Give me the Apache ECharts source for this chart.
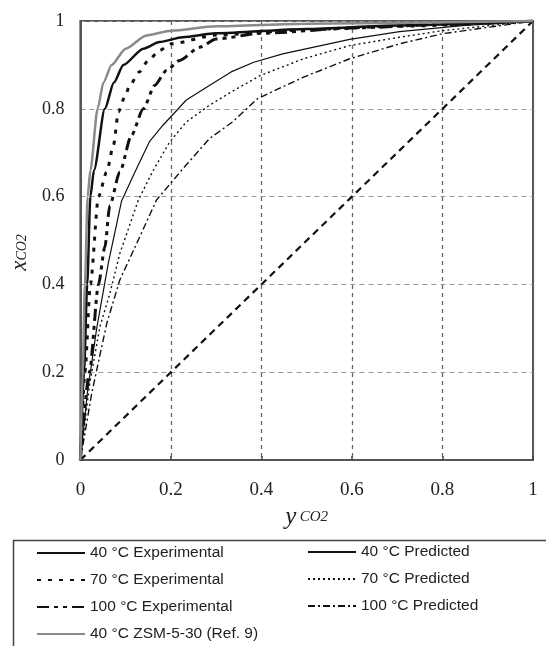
<!DOCTYPE html>
<html>
<head>
<meta charset="utf-8">
<script src="https://cdn.jsdelivr.net/npm/echarts@6/dist/echarts.min.js"></script>
<style>
  html, body { margin: 0; padding: 0; background: #fff; }
  #main { width: 546px; height: 646px; }
</style>
</head>
<body>
<div id="main"></div>
<script>
// axis ticks
const xTicks = [0, 0.2, 0.4, 0.6, 0.8, 1];
const yTicks = [0, 0.2, 0.4, 0.6, 0.8, 1];

// [yCO2, xCO2]
const exp40 = [[0,0],[0.008,0.2],[0.015,0.4],[0.022,0.6],[0.03,0.66],[0.054,0.8],[0.074,0.86],[0.095,0.9],[0.139,0.937],[0.175,0.952],[0.226,0.963],[0.3,0.972],[0.5,0.982],[0.7,0.99],[1,1]];
const exp70 = [[0,0],[0.01,0.2],[0.022,0.4],[0.04,0.6],[0.058,0.656],[0.073,0.717],[0.084,0.793],[0.098,0.827],[0.109,0.853],[0.13,0.884],[0.15,0.91],[0.175,0.933],[0.2,0.948],[0.3,0.968],[0.5,0.98],[0.7,0.988],[1,1]];
const exp100 = [[0,0],[0.02,0.2],[0.04,0.4],[0.054,0.485],[0.065,0.58],[0.087,0.656],[0.113,0.74],[0.139,0.8],[0.164,0.853],[0.19,0.887],[0.219,0.91],[0.263,0.94],[0.3,0.959],[0.4,0.972],[0.6,0.984],[0.8,0.992],[1,1]];
const zsm40 = [[0,0],[0.005,0.2],[0.01,0.4],[0.016,0.6],[0.022,0.66],[0.038,0.8],[0.051,0.86],[0.069,0.9],[0.1,0.937],[0.146,0.967],[0.2,0.978],[0.3,0.988],[0.5,0.994],[1,1]];
const pred40 = [[0,0],[0.015,0.15],[0.036,0.3],[0.062,0.45],[0.091,0.59],[0.12,0.655],[0.153,0.726],[0.182,0.762],[0.234,0.82],[0.285,0.853],[0.333,0.884],[0.383,0.906],[0.447,0.925],[0.595,0.958],[0.705,0.976],[0.85,0.99],[1,1]];
const pred70 = [[0,0],[0.02,0.17],[0.043,0.303],[0.065,0.379],[0.087,0.47],[0.128,0.592],[0.16,0.658],[0.197,0.724],[0.234,0.77],[0.285,0.808],[0.336,0.84],[0.398,0.876],[0.493,0.914],[0.595,0.944],[0.705,0.963],[0.8,0.978],[1,1]];
const pred100 = [[0,0],[0.025,0.152],[0.058,0.31],[0.087,0.41],[0.131,0.508],[0.168,0.592],[0.222,0.658],[0.285,0.732],[0.336,0.77],[0.391,0.823],[0.493,0.872],[0.595,0.914],[0.705,0.948],[0.8,0.971],[1,1]];
const diagonal = [[0,0],[1,1]];

const names = {
    e40: '40 °C Experimental',
    e70: '70 °C Experimental',
    e100: '100 °C Experimental',
    z40: '40 °C ZSM-5-30 (Ref. 9)',
    p40: '40 °C Predicted',
    p70: '70 °C Predicted',
    p100: '100 °C Predicted'
};

const serif = 'Liberation Serif';
const sans = 'Liberation Sans';

function line(name, data, color, width, dash, smooth) {
    return {
        name: name,
        type: 'line',
        data: data,
        symbol: 'none',
        smooth: smooth ? 0.25 : false,
        smoothMonotone: 'x',
        lineStyle: { color: color, width: width, type: dash },
        itemStyle: { color: color },
        animation: false
    };
}

var myChart = echarts.init(document.getElementById('main'));

const legendText = { fontFamily: sans, fontSize: 15.5, color: '#222', lineHeight: 18 };

var option = {
    backgroundColor: '#fff',
    animation: false,
    grid: {
        left: 79, right: 13, top: 21, bottom: 186,
        show: true, borderColor: '#555', borderWidth: 2
    },
    xAxis: {
        type: 'value', min: 0, max: 1, interval: 0.2,
        name: '{a|y} {b|CO2}',
        nameLocation: 'middle', nameGap: 45,
        nameTextStyle: {
            rich: {
                a: { fontFamily: serif, fontStyle: 'italic', fontSize: 25, color: '#222' },
                b: { fontFamily: serif, fontStyle: 'italic', fontSize: 15, color: '#222' }
            }
        },
        axisLine: { lineStyle: { color: '#555', width: 2 } },
        axisTick: { inside: true, length: 4, lineStyle: { color: '#444', width: 1.5 } },
        axisLabel: {
            margin: 21, fontFamily: serif, fontSize: 19, color: '#222',
            formatter: v => xTicks.indexOf(+v.toFixed(1)) >= 0 ? String(+v.toFixed(1)) : ''
        },
        splitLine: { lineStyle: { color: '#666', width: 1.3, type: [4, 4] } }
    },
    yAxis: {
        type: 'value', min: 0, max: 1, interval: 0.2,
        name: '{a|x}{b|CO2}',
        nameLocation: 'middle', nameGap: 46, nameRotate: 90,
        nameTextStyle: {
            padding: [0, 24, 0, 0],
            rich: {
                a: { fontFamily: serif, fontStyle: 'italic', fontSize: 23, color: '#222' },
                b: { fontFamily: serif, fontStyle: 'italic', fontSize: 14, color: '#222', padding: [6, 0, 0, 0] }
            }
        },
        axisLine: { lineStyle: { color: '#555', width: 2 } },
        axisTick: { show: false },
        axisLabel: {
            margin: 16, fontFamily: serif, fontSize: 18, color: '#222',
            formatter: v => yTicks.indexOf(+v.toFixed(1)) >= 0 ? String(+v.toFixed(1)) : ''
        },
        splitLine: { lineStyle: { color: '#999', width: 1, type: [5, 4] } }
    },
    legend: [
        {
            orient: 'vertical', left: 36, top: 544, itemGap: 9, padding: 0, height: 110,
            itemWidth: 48, itemHeight: 18, selectedMode: false,
            itemStyle: { opacity: 0 },
            textStyle: legendText,
            data: [names.e40, names.e70, names.e100, names.z40]
        },
        {
            orient: 'vertical', left: 307, top: 543, itemGap: 9, padding: 0, height: 110,
            itemWidth: 48, itemHeight: 18, selectedMode: false,
            itemStyle: { opacity: 0 },
            textStyle: legendText,
            data: [names.p40, names.p70, names.p100]
        }
    ],
    graphic: [{
        type: 'rect',
        left: 11, top: 538,
        shape: { width: 600, height: 200 },
        style: { fill: 'none', stroke: '#444', lineWidth: 1.5 },
        silent: true
    }],
    series: [
        line('', diagonal, '#111', 2.2, [7, 5], false),
        line(names.p100, pred100, '#111', 1.4, [7, 3, 2, 3], false),
        line(names.p70, pred70, '#111', 1.4, [2, 3], false),
        line(names.p40, pred40, '#111', 1.2, 'solid', false),
        line(names.e100, exp100, '#111', 3, [12, 5, 4, 5, 4, 5], true),
        line(names.e70, exp70, '#111', 3, [4, 7], true),
        line(names.e40, exp40, '#111', 2.5, 'solid', true),
        line(names.z40, zsm40, '#8a8a8a', 2.5, 'solid', true)
    ]
};
myChart.setOption(option);
</script>
</body>
</html>
